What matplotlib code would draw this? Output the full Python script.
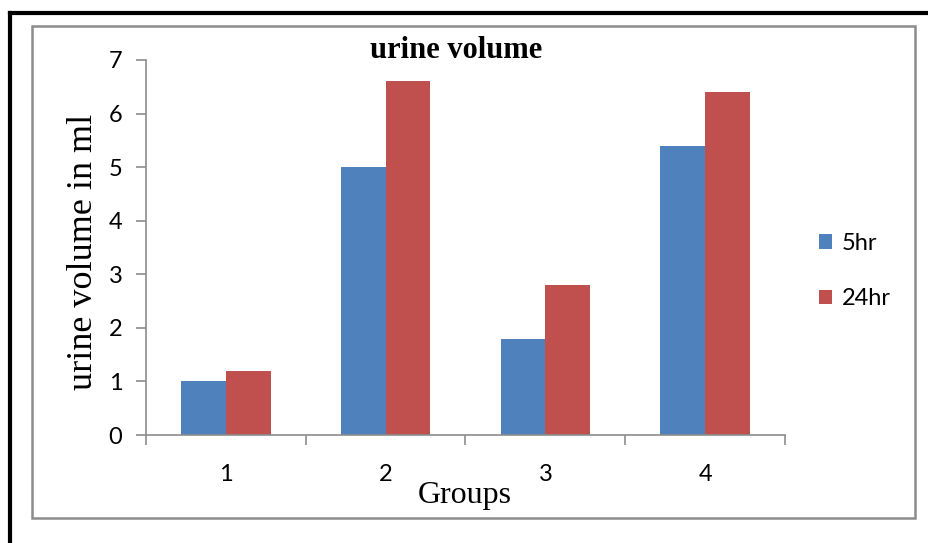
import matplotlib.pyplot as plt
import numpy as np
from matplotlib.lines import Line2D
from matplotlib.patches import Rectangle

groups = ["1", "2", "3", "4"]
series_names = ["5hr", "24hr"]
vol_5hr = [1.0, 5.0, 1.8, 5.4]
vol_24hr = [1.2, 6.6, 2.8, 6.4]
colors = ["#4F81BD", "#C0504D"]

W, H = 929, 543
fig = plt.figure(figsize=(W / 100, H / 100), dpi=100)

# outer black frame (top and left edges visible) and inner gray chart border
fig.add_artist(Line2D([10 / W, 1.0], [1 - 13 / H, 1 - 13 / H], color="black", lw=3,
                      transform=fig.transFigure))
fig.add_artist(Line2D([10 / W, 10 / W], [0.0, 1 - 13 / H], color="black", lw=3,
                      transform=fig.transFigure))
fig.add_artist(Rectangle((32 / W, 1 - 518 / H), (915 - 32) / W, (518 - 26) / H,
                         fill=False, ec="#8c8c8c", lw=1.8, transform=fig.transFigure))

ax = fig.add_axes([146 / W, 1 - 435 / H, (785 - 146) / W, (435 - 60) / H])

x = np.arange(1, len(groups) + 1)
width = 0.28
ax.bar(x - width / 2, vol_5hr, width, color=colors[0], label=series_names[0])
ax.bar(x + width / 2, vol_24hr, width, color=colors[1], label=series_names[1])

ax.set_xlim(0.5, len(groups) + 0.5)
ax.set_ylim(0, 7)
ax.set_yticks(range(0, 8))
ax.set_xticks(x)
ax.set_xticklabels(groups)
ax.set_xticks(np.arange(0.5, len(groups) + 1), minor=True)
ax.tick_params(axis="x", which="major", length=0, pad=21)
ax.tick_params(axis="x", which="minor", length=7, color="#8c8c8c", width=1.2)
ax.tick_params(axis="y", length=7, color="#8c8c8c", width=1.2, pad=10)

for lab in ax.get_xticklabels() + ax.get_yticklabels():
    lab.set_fontfamily("Lato")
    lab.set_fontsize(17)

for side in ["top", "right"]:
    ax.spines[side].set_visible(False)
for side in ["left", "bottom"]:
    ax.spines[side].set_color("#8c8c8c")
    ax.spines[side].set_linewidth(1.2)

fig.text(456 / W, 1 - 51 / H, "urine volume", fontfamily="Liberation Serif",
         fontweight="bold", fontsize=22, ha="center", va="center")
fig.text(84 / W, 1 - 252 / H, "urine volume in ml", fontfamily="Liberation Serif",
         fontsize=26, rotation=90, ha="center", va="center")
fig.text(465 / W, 1 - 495 / H, "Groups", fontfamily="Liberation Serif",
         fontsize=23, ha="center", va="center")

leg = ax.legend(loc="center left", bbox_to_anchor=(798 / W, 1 - 271 / H),
                bbox_transform=fig.transFigure, frameon=False,
                handlelength=0.55, handleheight=0.55, handletextpad=0.4,
                labelspacing=1.45, prop={"family": "Lato", "size": 17})

fig.savefig("out.png", dpi=100)
